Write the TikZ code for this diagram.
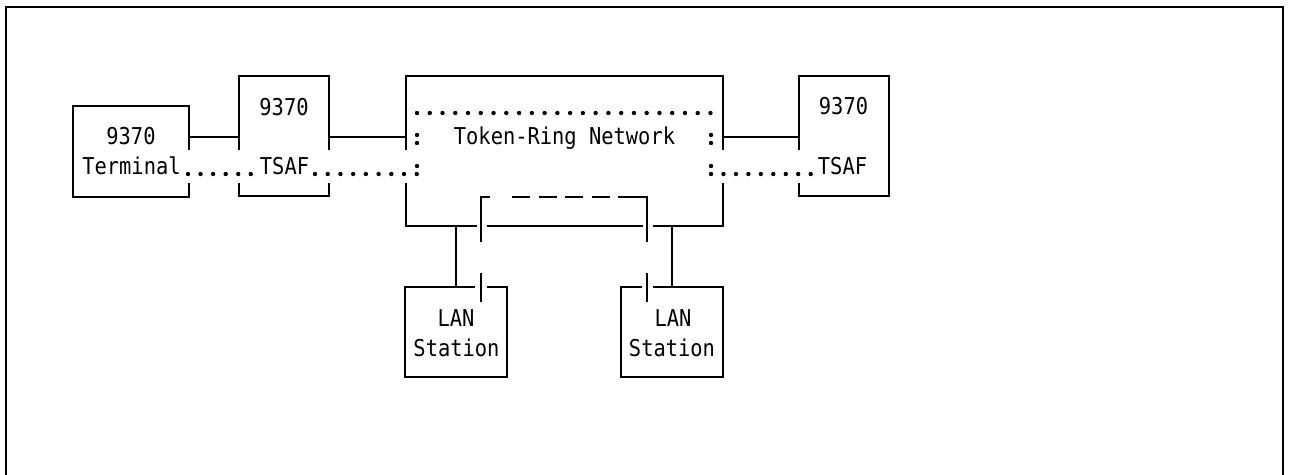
\documentclass[tikz,border=0pt]{standalone}
\usepackage{fontspec}
\newfontfamily\monofam[FakeStretch=0.88]{DejaVu Sans Mono}
\usetikzlibrary{calc}
\begin{document}
\begin{tikzpicture}[x=0.5pt,y=-0.5pt,
  box/.style={rectangle,draw=none,inner sep=0pt,outer sep=0pt},
  edge/.style={line width=0.85pt},
  frameline/.style={line width=1.2pt},
  txt/.style={font=\fontsize{11.6}{13}\monofam, inner sep=0pt, anchor=base},
  dotrow/.style={line width=2.2pt, line cap=round, dash pattern=on 0pt off #1},
  dashseg/.style={line width=0.85pt, dash pattern=on 9pt off 4.25pt}
]
\useasboundingbox (0,0) rectangle (1289,475);

% helper coordinates
\coordinate (gt) at (0,150);
\coordinate (gb) at (0,183);
\coordinate (lk) at (0,137);
\coordinate (barA) at (481,0);
\coordinate (barB) at (647,0);

% frame
\draw[frameline] (6,475) -- (6,7) -- (1283,7) -- (1283,475);

% boxes
\node[box,minimum width=58pt,minimum height=45.5pt] (term) at (131,151.5) {};
\node[box,minimum width=45pt,minimum height=60pt] (tsafA) at (284,136) {};
\node[box,minimum width=158.5pt,minimum height=75pt] (ring) at (564.5,151) {};
\node[box,minimum width=45pt,minimum height=60pt] (tsafB) at (844,136) {};
\node[box,minimum width=51pt,minimum height=45pt] (lanA) at (456,332) {};
\node[box,minimum width=51pt,minimum height=45pt] (lanB) at (672,332) {};

% outlines (with gaps where the dotted path passes)
\draw[edge] (term.east|-gt) -- (term.north east) -- (term.north west) -- (term.south west) -- (term.south east) -- (term.east|-gb);
\draw[edge] (tsafA.west|-gt) -- (tsafA.north west) -- (tsafA.north east) -- (tsafA.east|-gt);
\draw[edge] (tsafA.west|-gb) -- (tsafA.south west) -- (tsafA.south east) -- (tsafA.east|-gb);
\draw[edge] (tsafB.west|-gt) -- (tsafB.north west) -- (tsafB.north east) -- (tsafB.south east) -- (tsafB.south west) -- (tsafB.west|-gb);
\draw[edge] (ring.west|-gt) -- (ring.north west) -- (ring.north east) -- (ring.east|-gt);
\draw[edge] (ring.west|-gb) -- (ring.south west) -- ($(barA|-ring.south)+(-4,0)$);
\draw[edge] ($(barA|-ring.south)+(6,0)$) -- ($(barB|-ring.south)+(-4,0)$);
\draw[edge] ($(barB|-ring.south)+(6,0)$) -- (ring.south east) -- (ring.east|-gb);
\draw[edge] ($(barA|-lanA.north)+(-6,0)$) -- (lanA.north west) -- (lanA.south west) -- (lanA.south east) -- (lanA.north east) -- ($(barA|-lanA.north)+(6,0)$);
\draw[edge] ($(barB|-lanB.north)+(-5,0)$) -- (lanB.north west) -- (lanB.south west) -- (lanB.south east) -- (lanB.north east) -- ($(barB|-lanB.north)+(6,0)$);

% bypass switches
\coordinate (swAlow) at (481,242);
\coordinate (swAtop) at (481,197);
\coordinate (swBlow) at (647,242);
\coordinate (swBtop) at (647,197);
\draw[edge] (swAlow) -- (swAtop) -- ++(9,0);
\draw[dashseg] ($(swAtop)+(31,0)$) -- ($(swBtop)+(-11,0)$);
\draw[edge] ($(swBtop)+(-11,0)$) -- (swBtop) -- (swBlow);
\draw[edge] (barA|-0,273) -- (barA|-0,302);
\draw[edge] (barB|-0,273) -- (barB|-0,302);

% connectors
\draw[edge] (term.east|-lk) -- (tsafA.west|-lk);
\draw[edge] (tsafA.east|-lk) -- (ring.west|-lk);
\draw[edge] (ring.east|-lk) -- (tsafB.west|-lk);
\draw[edge] (lanA.north|-ring.south) -- (lanA.north);
\draw[edge] (lanB.north|-ring.south) -- (lanB.north);

% texts
\node[txt] (termNum) at (131,145) {9370};
\node[txt] (termLbl) at (131.5,175) {Terminal};
\node[txt] (tsafANum) at (284,116) {9370};
\node[txt] (tsafALbl) at (284.5,175) {TSAF};
\node[txt] (ringLbl) at (564.5,145) {Token-Ring Network};
\node[txt] (tsafBNum) at (843.5,115) {9370};
\node[txt] (tsafBLbl) at (842.5,175) {TSAF};
\node[txt] (lanALbl1) at (456,327) {LAN};
\node[txt] (lanALbl2) at (456.5,357) {Station};
\node[txt] (lanBLbl1) at (673,327) {LAN};
\node[txt] (lanBLbl2) at (672,357) {Station};

% dotted rows and colons
\draw[dotrow=6.28pt] (188,174) -- (251,174);
\draw[dotrow=6.36pt] (315,174) -- (417,174);
\draw[dotrow=6.38pt] (417,113) -- (711,113);
\draw[dotrow=6.23pt] (711,174) -- (811,174);
\foreach \cx in {417,711}{
  \foreach \cy in {135,143,166}{
    \fill (\cx,\cy) circle (1.1pt);
  }
}
\end{tikzpicture}
\end{document}
